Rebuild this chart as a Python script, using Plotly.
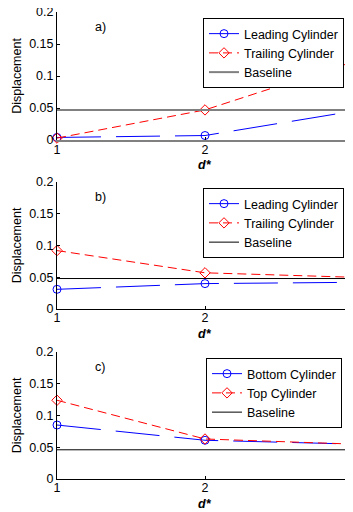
import plotly.graph_objects as go

d_star = [1, 2, 3]
x_ticks = [1, 2, 3]
y_ticks = [0, 0.05, 0.1, 0.15, 0.2]
y_tick_text = ["0", "0.05", "0.1", "0.15", "0.2"]

# panel a
a_leading = [0.004, 0.007, 0.045]
a_trailing = [0.003, 0.047, 0.122]
a_baseline = 0.047
# panel b
b_leading = [0.031, 0.040, 0.042]
b_trailing = [0.092, 0.057, 0.050]
b_baseline = 0.048
# panel c
c_bottom = [0.085, 0.061, 0.055]
c_top = [0.124, 0.063, 0.055]
c_baseline = 0.046

panels = [
    ("a)", "Leading Cylinder", a_leading, "Trailing Cylinder", a_trailing, a_baseline),
    ("b)", "Leading Cylinder", b_leading, "Trailing Cylinder", b_trailing, b_baseline),
    ("c)", "Bottom Cylinder", c_bottom, "Top Cylinder", c_top, c_baseline),
]

OFF = 8  # page body margin
W, H = 353 - OFF, 512 - OFF
rows_px = [(12 - OFF, 140 - OFF), (182 - OFF, 309 - OFF), (352 - OFF, 479 - OFF)]
legend_px = [(203 - OFF, 18 - OFF), (203 - OFF, 188 - OFF), (206 - OFF, 358 - OFF)]
L = 57 - OFF

fig = go.Figure()
font = dict(family="Arial, Liberation Sans, sans-serif", size=12.5, color="black")

for i, (lab, n1, v1, n2, v2, base) in enumerate(panels):
    k = "" if i == 0 else str(i + 1)
    xa, ya = "x" + k, "y" + k
    leg = "legend" + k
    base_color = "#808080" if i == 0 else "black"
    base_w = 2 if i == 0 else 1
    fig.add_trace(go.Scatter(
        x=d_star, y=v1, name=n1, xaxis=xa, yaxis=ya, legend=leg,
        mode="lines+markers", cliponaxis=False,
        line=dict(color="blue", width=1, dash="44px,15px"),
        marker=dict(symbol="circle-open", size=8, color="blue", line=dict(width=1)),
    ))
    fig.add_trace(go.Scatter(
        x=d_star, y=v2, name=n2, xaxis=xa, yaxis=ya, legend=leg,
        mode="lines+markers", cliponaxis=False,
        line=dict(color="red", width=1, dash="9px,5px"),
        marker=dict(symbol="diamond-open", size=8, color="red", line=dict(width=1)),
    ))
    fig.add_trace(go.Scatter(
        x=[d_star[0], d_star[-1]], y=[base, base], name="Baseline",
        xaxis=xa, yaxis=ya, legend=leg, mode="lines",
        line=dict(color=base_color, width=base_w),
    ))
    top, bot = rows_px[i]
    dom = [1 - bot / H, 1 - top / H]
    fig.layout["xaxis" + k] = dict(
        domain=[0, 1], range=[1, 3], tickvals=x_ticks, ticktext=[str(t) for t in x_ticks],
        anchor=ya, showgrid=False, zeroline=False, showline=True, automargin=False,
        ticklabeloverflow="allow", ticklabelstandoff=-3,
        linecolor="#808080" if i == 0 else "black", linewidth=2 if i == 0 else 1,
        ticks="inside", ticklen=3, tickcolor="black", tickfont=font,
    )
    fig.layout["yaxis" + k] = dict(
        domain=dom, range=[0, 0.2], tickvals=y_ticks, ticktext=y_tick_text,
        anchor=xa, showgrid=False, zeroline=False, showline=True, automargin=False,
        ticklabeloverflow="allow",
        linecolor="black", linewidth=1,
        ticks="inside", ticklen=3, tickcolor="black", tickfont=font,
        title=dict(text="Displacement", font=font, standoff=4),
    )
    lx, ly = legend_px[i]
    fig.layout[leg] = dict(
        x=(lx - L) / (W - L), y=1 - ly / H, xanchor="left", yanchor="top",
        bordercolor="black", borderwidth=1, bgcolor="white",
        font=font, tracegroupgap=0, itemwidth=30,
    )
    fig.add_annotation(
        text=lab, xref=xa + " domain", yref=ya + " domain",
        x=(100 - 57) / (353 - 57), y=1 - 15 / (bot - top),
        showarrow=False, font=font, xanchor="center", yanchor="middle",
    )
    fig.add_annotation(
        text="<b><i>d*</i></b>", xref=xa + " domain", yref=ya + " domain",
        x=(205 - 57) / (353 - 57), y=-25 / (bot - top),
        showarrow=False, font=font, xanchor="center", yanchor="middle",
    )

fig.update_layout(
    width=W, height=H, margin=dict(l=L, r=0, t=0, b=0),
    paper_bgcolor="white", plot_bgcolor="white", showlegend=True,
    font=font,
)

fig.write_html("out.html")
